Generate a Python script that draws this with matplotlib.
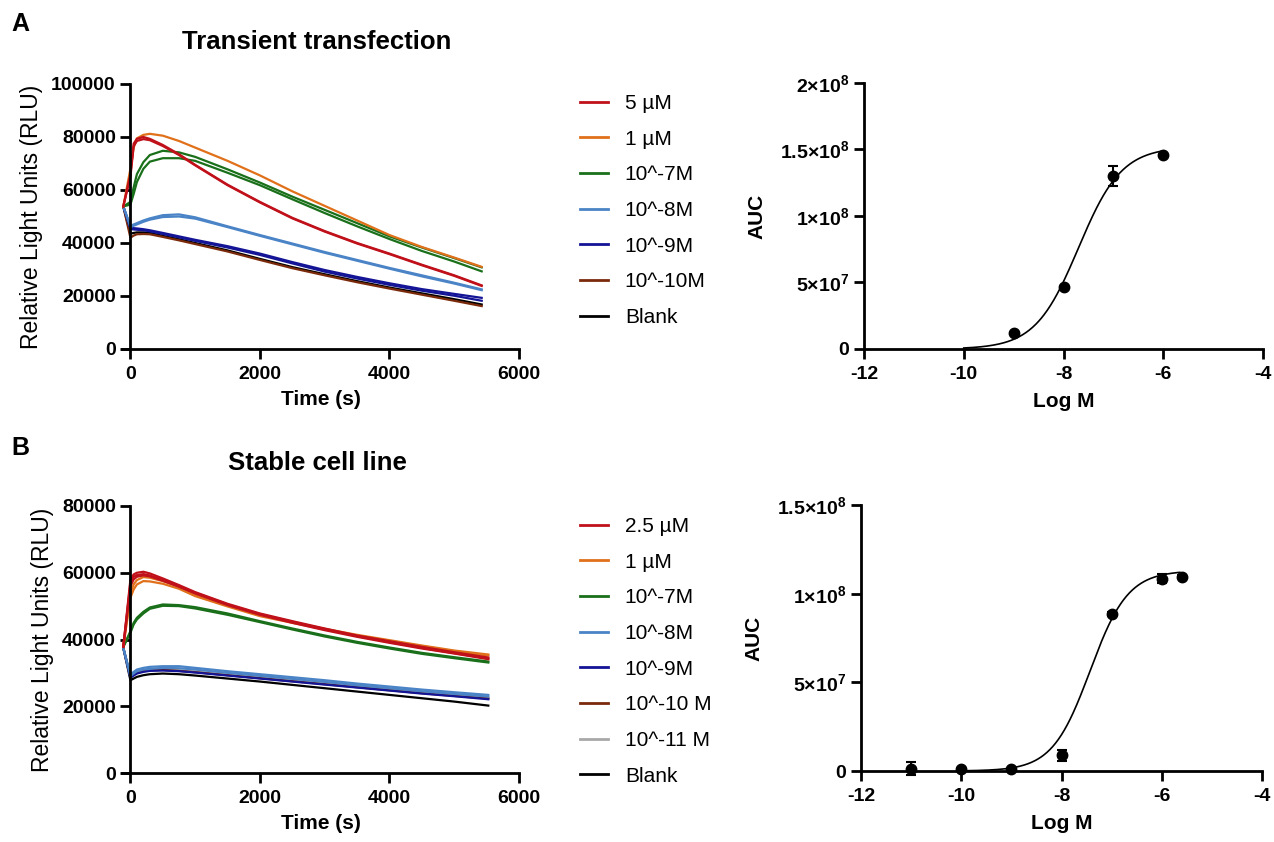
import matplotlib
matplotlib.use("Agg")
import matplotlib.pyplot as plt
import numpy as np

plt.rcParams["font.family"] = ["Liberation Sans", "DejaVu Sans"]
plt.rcParams["axes.unicode_minus"] = False
plt.rcParams["mathtext.fontset"] = "custom"
plt.rcParams["mathtext.rm"] = "Liberation Sans"
plt.rcParams["mathtext.bf"] = "Liberation Sans:bold"

W, H = 1274, 842

# ---- panel A, kinetics (RLU in thousands) ----
t_a = [-110, 0, 50, 100, 200, 300, 500, 750, 1000, 1500, 2000, 2500, 3000, 3500, 4000, 4500, 5000, 5424]
a_5uM = [53.8, 66, 77.5, 79.3, 80, 79.3, 77, 73.5, 69.5, 62, 55.5, 49.5, 44.5, 40, 36, 31.8, 27.8, 24.0]
a_5uM_b = [53.8, 65, 76.5, 78.5, 79.2, 78.8, 76.6, 73.2, 69.3, 61.8, 55.3, 49.3, 44.3, 39.8, 35.8, 31.6, 27.6, 23.8]
a_1uM = [53.8, 68, 76, 79.5, 80.8, 81.2, 80.5, 78.5, 76, 71, 65.5, 59.5, 54, 48.5, 43, 38.5, 34.5, 31.0]
a_1e7_a = [53.8, 55.5, 61, 66, 70.5, 73.2, 74.8, 74.2, 72.5, 67.8, 62.8, 57.5, 52.5, 47.5, 42.5, 38.3, 34.3, 30.8]
a_1e7_b = [53.8, 54.5, 58.5, 63, 68, 70.7, 72, 72, 71, 66.5, 61.8, 56.5, 51.3, 46.3, 41.5, 37, 33, 29.3]
a_1e8_a = [53.8, 46.5, 47, 47.5, 48.5, 49.3, 50.5, 50.8, 49.7, 46.3, 43, 39.8, 36.6, 33.6, 30.6, 27.8, 25, 22.5]
a_1e8_b = [53.8, 46, 46.5, 47, 48, 48.8, 49.8, 50, 49.2, 46, 42.7, 39.5, 36.3, 33.3, 30.3, 27.4, 24.7, 22.2]
a_1e9_a = [53.8, 45.8, 45.6, 45.5, 45.2, 44.8, 43.8, 42.5, 41.2, 38.8, 36, 32.8, 29.8, 27.2, 24.8, 22.6, 20.8, 19.3]
a_1e9_b = [53.8, 45.3, 45.1, 45, 44.8, 44.4, 43.4, 42.1, 40.8, 38.3, 35.5, 32.3, 29.2, 26.6, 24.2, 22, 20.1, 18.2]
a_1e10 = [53.8, 42, 42.8, 43.3, 43.4, 43.3, 42.3, 41, 39.6, 36.8, 33.6, 30.5, 27.8, 25.2, 22.8, 20.5, 18.2, 16.2]
a_blank = [53.8, 43.5, 43.8, 44, 44, 43.8, 42.7, 41.4, 40, 37.2, 34, 30.9, 28.2, 25.6, 23.2, 21, 18.8, 16.8]

# ---- panel B, kinetics (RLU in thousands) ----
t_b = [-110, 0, 50, 100, 200, 300, 500, 750, 1000, 1500, 2000, 2500, 3000, 3500, 4000, 4500, 5000, 5526]
b_25uM_a = [37.8, 58, 59.5, 60, 60.3, 59.8, 58.3, 56.3, 54.2, 50.7, 47.8, 45.5, 43.3, 41.2, 39.5, 37.8, 36.2, 34.6]
b_25uM_b = [37.8, 57, 58.8, 59.3, 59.6, 59.2, 57.8, 56, 54, 50.5, 47.6, 45.3, 43.1, 41, 39.2, 37.5, 35.9, 34.3]
b_25uM_c = [37.8, 56, 58, 58.8, 59.2, 58.9, 57.6, 55.8, 53.8, 50.3, 47.4, 45, 42.8, 40.8, 39, 37.3, 35.8, 34.1]
b_1uM_a = [37.8, 54, 56.5, 57.8, 58.7, 58.5, 57.5, 55.8, 53.5, 50.2, 47.3, 45.2, 43.2, 41.4, 39.8, 38.2, 36.7, 35.5]
b_1uM_b = [37.8, 52.5, 55, 56.5, 57.5, 57.4, 56.7, 55.2, 53, 49.9, 47, 45, 43, 41.2, 39.6, 38, 36.5, 35.2]
b_1e7_a = [37.8, 42.5, 45, 46.5, 48.3, 49.6, 50.5, 50.3, 49.7, 47.8, 45.5, 43.3, 41.2, 39.3, 37.6, 36, 34.7, 33.4]
b_1e7_b = [37.8, 42, 44.5, 46, 47.8, 49.2, 50.1, 50, 49.3, 47.4, 45.2, 43, 40.9, 39, 37.3, 35.7, 34.4, 33.1]
b_1e8_a = [37.5, 29.5, 30.3, 31, 31.5, 31.8, 32, 32, 31.5, 30.5, 29.6, 28.7, 27.8, 26.8, 25.9, 25, 24.2, 23.4]
b_1e8_b = [37.5, 29, 29.8, 30.5, 31, 31.2, 31.5, 31.4, 31, 30, 29.1, 28.2, 27.3, 26.3, 25.4, 24.5, 23.7, 22.9]
b_1e9 = [37.5, 28.5, 29.2, 29.8, 30.3, 30.6, 30.7, 30.5, 30.1, 29.2, 28.3, 27.4, 26.5, 25.6, 24.7, 23.8, 23, 22.1]
b_1e10 = [37.5, 29, 29.5, 30, 30.5, 30.8, 30.9, 30.6, 30.2, 29.3, 28.4, 27.5, 26.6, 25.7, 24.8, 23.9, 23.1, 22.3]
b_1e11 = [37.5, 28.8, 29.4, 30, 30.5, 30.8, 31, 30.8, 30.4, 29.5, 28.6, 27.7, 26.8, 25.9, 25, 24.1, 23.3, 22.6]
b_blank = [37.5, 27.8, 28.3, 28.8, 29.3, 29.6, 29.8, 29.6, 29.2, 28.3, 27.4, 26.4, 25.4, 24.4, 23.4, 22.4, 21.4, 20.2]

# ---- dose response ----
logm_a = [-9, -8, -7, -6]
auc_a = [1.2e7, 4.65e7, 1.3e8, 1.46e8]
err_a = [0.5e6, 1.0e6, 7.5e6, 0.5e6]
fit_a = dict(bottom=0.0, top=1.52e8, logec50=-7.7, hill=1.0, start=-10, stop=-6)

logm_b = [-11, -10, -9, -8, -7, -6, -5.6]
auc_b = [1.3e6, 1.3e6, 0.9e6, 8.8e6, 8.85e7, 1.085e8, 1.095e8]
err_b = [3.5e6, 0.5e6, 0.3e6, 3.2e6, 1.0e6, 2.6e6, 0.8e6]
fit_b = dict(bottom=0.0, top=1.13e8, logec50=-7.43, hill=1.15, start=-10, stop=-5.64)

yticks_a = [0, 5e7, 1e8, 1.5e8, 2e8]
ylabels_a = ["0", r"$\mathbf{5{\times}10^{7}}$", r"$\mathbf{1{\times}10^{8}}$",
             r"$\mathbf{1.5{\times}10^{8}}$", r"$\mathbf{2{\times}10^{8}}$"]
yticks_b = [0, 5e7, 1e8, 1.5e8]
ylabels_b = ["0", r"$\mathbf{5{\times}10^{7}}$", r"$\mathbf{1{\times}10^{8}}$",
             r"$\mathbf{1.5{\times}10^{8}}$"]

RED, ORANGE, GREEN = "#c0101a", "#e0701a", "#1a701a"
LBLUE, DBLUE, BROWN, GRAY = "#4a84c6", "#141496", "#7a2a0a", "#a8a8a8"

series_a = [
    ("5 µM", RED, [a_5uM, a_5uM_b]),
    ("1 µM", ORANGE, [a_1uM]),
    ("10^-7M", GREEN, [a_1e7_a, a_1e7_b]),
    ("10^-8M", LBLUE, [a_1e8_a, a_1e8_b]),
    ("10^-9M", DBLUE, [a_1e9_a, a_1e9_b]),
    ("10^-10M", BROWN, [a_1e10]),
    ("Blank", "black", [a_blank]),
]
series_b = [
    ("2.5 µM", RED, [b_25uM_a, b_25uM_b, b_25uM_c]),
    ("1 µM", ORANGE, [b_1uM_a, b_1uM_b]),
    ("10^-7M", GREEN, [b_1e7_a, b_1e7_b]),
    ("10^-8M", LBLUE, [b_1e8_a, b_1e8_b]),
    ("10^-9M", DBLUE, [b_1e9]),
    ("10^-10 M", BROWN, [b_1e10]),
    ("10^-11 M", GRAY, [b_1e11]),
    ("Blank", "black", [b_blank]),
]

TICK_FS = 14
LAB_FS = 15


def style_axes(ax):
    for s in ["top", "right"]:
        ax.spines[s].set_visible(False)
    for s in ["left", "bottom"]:
        ax.spines[s].set_linewidth(2)
    ax.tick_params(direction="out", length=7.5, width=2, labelsize=TICK_FS, pad=3)
    ax.tick_params(axis="x", pad=5)
    for lab in ax.get_xticklabels() + ax.get_yticklabels():
        lab.set_fontweight("bold")


def kinetics(ax, t, series, ymax, yticks, legend_y):
    handles = []
    for label, color, reps in reversed(series):
        for rep in reps:
            ax.plot(t, np.array(rep) * 1000, color=color, lw=1.6, solid_joinstyle="round")
    for label, color, reps in series:
        h, = ax.plot([], [], color=color, lw=2, label=label)
        handles.append(h)
    ax.set_xlim(-130, 6000)
    ax.set_ylim(0, ymax)
    ax.set_xticks([0, 2000, 4000, 6000])
    ax.set_yticks(yticks)
    ax.spines["left"].set_position(("data", 0))
    style_axes(ax)
    ax.set_xlabel("Time (s)", fontsize=LAB_FS, fontweight="bold", labelpad=5)
    ax.set_ylabel("Relative Light Units (RLU)", fontsize=16.5, labelpad=6)
    fig.legend(handles=handles, loc="upper left", bbox_to_anchor=(580 / W, legend_y),
               frameon=False, fontsize=15, handlelength=1.35, handletextpad=0.8,
               labelspacing=0.8, borderpad=0, borderaxespad=0)


def dose(ax, x, y, err, fit, yticks, ylabels):
    xs = np.linspace(fit["start"], fit["stop"], 300)
    ys = fit["bottom"] + (fit["top"] - fit["bottom"]) / (1 + 10 ** ((fit["logec50"] - xs) * fit["hill"]))
    ax.plot(xs, ys, color="black", lw=1.2)
    ax.errorbar(x, y, yerr=err, fmt="o", color="black", ms=7.5, capsize=3.5,
                elinewidth=1.5, capthick=1.5, clip_on=False, zorder=5)
    ax.set_xlim(-12, -4)
    ax.set_ylim(0, yticks[-1])
    ax.set_xticks([-12, -10, -8, -6, -4])
    ax.set_yticks(yticks)
    ax.set_yticklabels(ylabels)
    style_axes(ax)
    ax.set_xlabel("Log M", fontsize=LAB_FS, fontweight="bold", labelpad=6)
    ax.set_ylabel("AUC", fontsize=LAB_FS, fontweight="bold", labelpad=10)


fig = plt.figure(figsize=(W / 100, H / 100), dpi=100)

ax_a = fig.add_axes([122 / W, 1 - 349 / H, 397 / W, 265 / H])
ax_b = fig.add_axes([122 / W, 1 - 773 / H, 397 / W, 267 / H])
ax_c = fig.add_axes([864 / W, 1 - 349 / H, 399 / W, 266 / H])
ax_d = fig.add_axes([861 / W, 1 - 771 / H, 401 / W, 266 / H])

kinetics(ax_a, t_a, series_a, 100000, [0, 20000, 40000, 60000, 80000, 100000], 1 - 94 / H)
kinetics(ax_b, t_b, series_b, 80000, [0, 20000, 40000, 60000, 80000], 1 - 517 / H)
dose(ax_c, logm_a, auc_a, err_a, fit_a, yticks_a, ylabels_a)
dose(ax_d, logm_b, auc_b, err_b, fit_b, yticks_b, ylabels_b)

fig.text(317 / W, 1 - 42 / H, "Transient transfection", ha="center", va="center",
         fontsize=18.5, fontweight="bold")
fig.text(317 / W, 1 - 463 / H, "Stable cell line", ha="center", va="center",
         fontsize=18.5, fontweight="bold")
fig.text(20 / W, 1 - 24 / H, "A", ha="center", va="center", fontsize=18, fontweight="bold")
fig.text(20 / W, 1 - 448 / H, "B", ha="center", va="center", fontsize=18, fontweight="bold")

fig.savefig("out.png", dpi=100)
